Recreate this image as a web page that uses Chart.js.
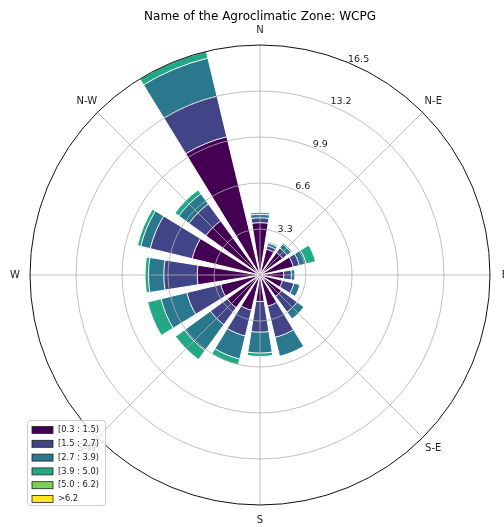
<!DOCTYPE html>
<html>
<head>
<meta charset="utf-8">
<script src="https://cdn.jsdelivr.net/npm/chart.js@4.4.0/dist/chart.umd.min.js"></script>
<style>
  html, body { margin: 0; padding: 0; background: #ffffff; }
  #wrap { width: 504px; height: 527px; position: relative; }
</style>
</head>
<body>
<div id="wrap"><canvas id="rose"></canvas></div>
<script>
// Wind directions (16 sectors, clockwise from north)
const directions = ['N', 'NNE', 'NE', 'ENE', 'E', 'ESE', 'SE', 'SSE',
                    'S', 'SSW', 'SW', 'WSW', 'W', 'WNW', 'NW', 'NNW'];

// Wind speed classes and their colours (viridis)
const speedBins = ['[0.3 : 1.5)', '[1.5 : 2.7)', '[2.7 : 3.9)', '[3.9 : 5.0)', '[5.0 : 6.2)', '>6.2'];
const speedColors = ['#440154', '#414487', '#2a788e', '#22a884', '#7ad151', '#fde725'];

// Frequency (%) of each speed class per direction
const freqBin1 = [3.75, 1.9, 2.0, 2.45, 1.7, 1.65, 1.9, 2.3, 1.9, 2.6, 2.9, 2.9, 4.5, 5.0, 4.8, 10.2];
const freqBin2 = [0.35, 0.25, 0.4, 0.45, 0.55, 0.85, 1.4, 2.3, 2.2, 1.9, 1.5, 2.5, 2.4, 3.1, 1.5, 3.0];
const freqBin3 = [0.25, 0.2, 0.35, 0.5, 0.25, 0.45, 0.6, 1.4, 1.5, 1.7, 2.3, 1.9, 1.1, 0.7, 0.9, 2.8];
const freqBin4 = [0.15, 0.1, 0.1, 0.7, 0, 0, 0, 0, 0.25, 0.45, 0.8, 1.0, 0.25, 0.25, 0.35, 0.5];
const freqBin5 = [0, 0, 0, 0, 0, 0, 0, 0, 0, 0, 0, 0, 0, 0, 0, 0];
const freqBin6 = [0, 0, 0, 0, 0, 0, 0, 0, 0, 0, 0, 0, 0, 0, 0, 0];

// Radial rings and compass labels
const radialTicks = [3.3, 6.6, 9.9, 13.2, 16.5];
const compassLabels = ['N', 'N-E', 'E', 'S-E', 'S', 'S-W', 'W', 'N-W'];

const rMax = 16.5;
const barSpan = 18;    // degrees covered by each sector bar
const gapSpan = 4.5;   // empty wedge between neighbouring bars

// Stack the speed classes: each dataset holds the running total up to its class
const binFrequencies = [freqBin1, freqBin2, freqBin3, freqBin4, freqBin5, freqBin6];
const cumulative = [];
let running = directions.map(() => 0);
binFrequencies.forEach(bin => {
  running = running.map((v, i) => v + bin[i]);
  cumulative.push(running.slice());
});

// Every direction is followed by an empty gap slice
const sliceLabels = [];
directions.forEach(d => sliceLabels.push(d, ''));

const datasets = cumulative.map((cum, k) => ({
  label: speedBins[k],
  data: cum.flatMap(v => [v, 0]),
  backgroundColor: c => (c.dataIndex % 2 ? 'rgba(0,0,0,0)' : speedColors[k]),
  borderColor: '#ffffff',
  borderWidth: c => (c.dataIndex % 2 ? 0 : 1),
  angle: c => (c.dataIndex % 2 ? gapSpan : barSpan)
}));

// Compass spokes, direction names, ring values and the speed legend
const roseDecor = {
  id: 'roseDecor',
  afterDatasetsDraw(chart) {
    const s = chart.scales.r;
    const ctx = chart.ctx;
    const cx = s.xCenter, cy = s.yCenter, R = s.drawingArea;
    ctx.save();
    ctx.strokeStyle = '#b0b0b0';
    ctx.lineWidth = 0.8;
    compassLabels.forEach((_, i) => {
      const a = i * Math.PI / 4;
      ctx.beginPath();
      ctx.moveTo(cx, cy);
      ctx.lineTo(cx + R * Math.sin(a), cy - R * Math.cos(a));
      ctx.stroke();
    });
    ctx.fillStyle = '#222222';
    ctx.font = '10px "DejaVu Sans"';
    ctx.textAlign = 'center';
    ctx.textBaseline = 'middle';
    compassLabels.forEach((t, i) => {
      const a = i * Math.PI / 4;
      const rr = R + 15;
      ctx.fillText(t, cx + rr * Math.sin(a), cy - rr * Math.cos(a));
    });
    ctx.font = '9.5px "DejaVu Sans"';
    ctx.textAlign = 'left';
    ctx.textBaseline = 'alphabetic';
    const la = 22.5 * Math.PI / 180;
    radialTicks.forEach(v => {
      const d = s.getDistanceFromCenterForValue(v);
      ctx.fillText(v.toFixed(1), cx + d * Math.sin(la), cy - d * Math.cos(la) - 1);
    });
    ctx.restore();
  },
  afterDraw(chart) {
    const ctx = chart.ctx;
    ctx.save();
    ctx.beginPath();
    ctx.roundRect(27.5, 420.5, 78, 85, 3);
    ctx.fillStyle = 'rgba(255,255,255,0.8)';
    ctx.fill();
    ctx.strokeStyle = '#cccccc';
    ctx.lineWidth = 1;
    ctx.stroke();
    speedBins.forEach((t, i) => {
      const yc = 430 + i * 13.8;
      ctx.fillStyle = speedColors[i];
      ctx.fillRect(32, yc - 3.5, 21, 7);
      ctx.strokeStyle = '#222222';
      ctx.lineWidth = 0.8;
      ctx.strokeRect(32, yc - 3.5, 21, 7);
      ctx.fillStyle = '#222222';
      ctx.font = '8.3px "DejaVu Sans"';
      ctx.textAlign = 'left';
      ctx.textBaseline = 'middle';
      ctx.fillText(t, 58, yc);
    });
    ctx.restore();
  }
};

new Chart(document.getElementById('rose'), {
  type: 'polarArea',
  data: { labels: sliceLabels, datasets: datasets },
  options: {
    responsive: true,
    maintainAspectRatio: false,
    animation: false,
    layout: { padding: { left: 30, right: 14, top: 0, bottom: 22 } },
    plugins: {
      legend: { display: false },
      tooltip: { enabled: false },
      title: {
        display: true,
        text: 'Name of the Agroclimatic Zone: WCPG',
        color: '#000000',
        font: { family: 'DejaVu Sans', size: 12, weight: 'normal' },
        padding: { top: 10, bottom: 20.6 }
      }
    },
    scales: {
      r: {
        min: 0,
        max: rMax,
        startAngle: -barSpan / 2,
        afterBuildTicks: scale => {
          scale.ticks = [0].concat(radialTicks).map(v => ({ value: v }));
        },
        ticks: { display: false },
        grid: {
          circular: true,
          z: 1,
          color: c => (c.tick && c.tick.value >= rMax - 1e-6 ? '#111111' : '#b0b0b0'),
          lineWidth: c => (c.tick && c.tick.value >= rMax - 1e-6 ? 1 : 0.8)
        },
        angleLines: { display: false },
        pointLabels: { display: false }
      }
    }
  },
  plugins: [roseDecor]
});
</script>
</body>
</html>
